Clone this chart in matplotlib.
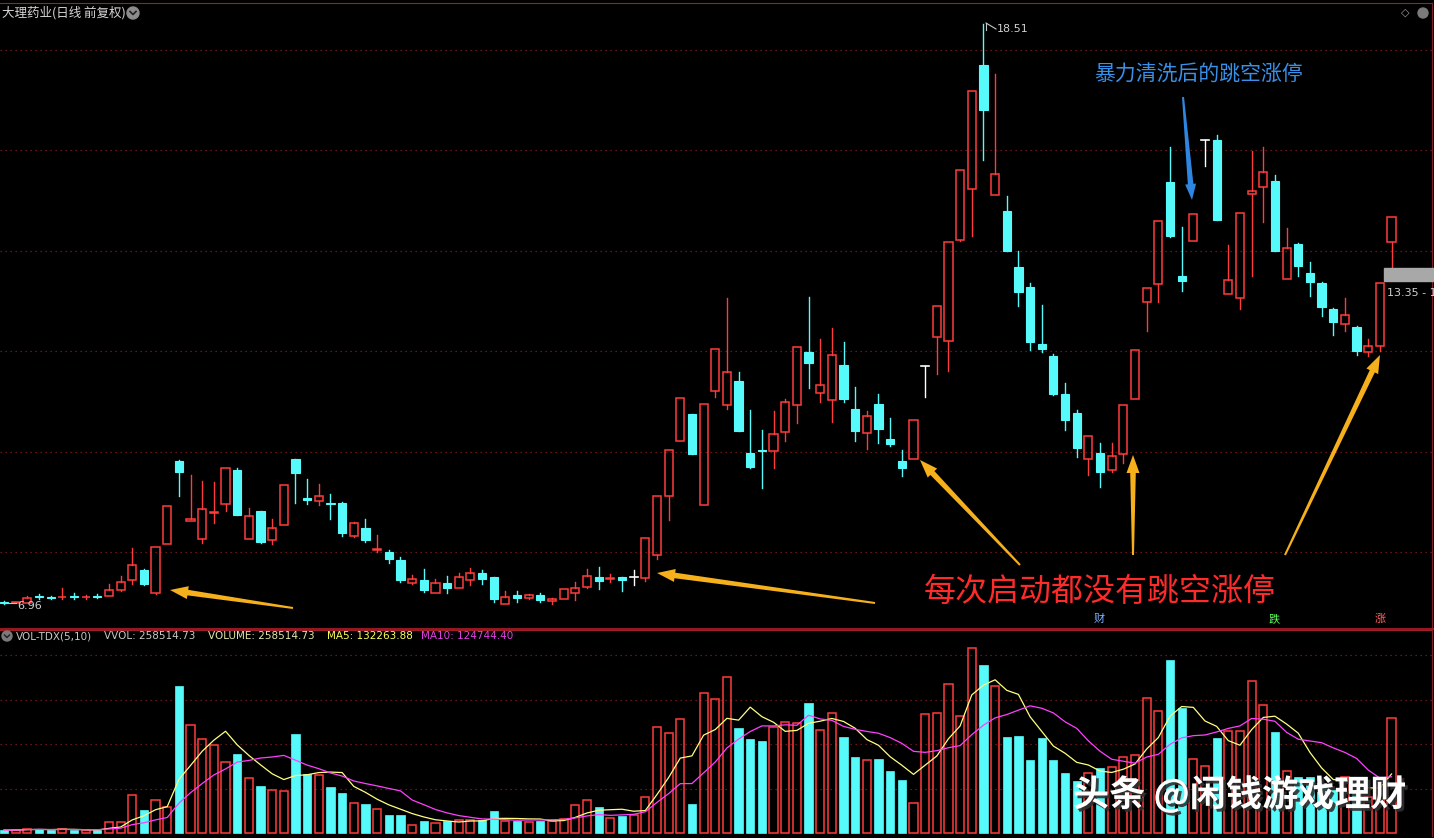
import numpy as np
import pandas as pd
import matplotlib
matplotlib.use('Agg')
import matplotlib.pyplot as plt
from matplotlib.patches import Rectangle, Polygon, Circle
import matplotlib.patheffects as pe

plt.rcParams['font.family'] = ['Noto Sans CJK SC', 'DejaVu Sans']

# 日线 OHLC (前复权)
open_ = [7.00, 6.98, 6.99, 7.12, 7.11, 7.10, 7.12, 7.10, 7.12, 7.13,
         7.25, 7.44, 7.65, 7.19, 8.15, 9.82, 8.61, 8.25, 8.77, 8.95,
         9.64, 8.25, 8.82, 8.23, 8.53, 9.85, 9.08, 9.01, 8.98, 8.98,
         8.32, 8.48, 8.04, 8.00, 7.85, 7.39, 7.45, 7.19, 7.39, 7.29,
         7.44, 7.58, 7.50, 6.97, 7.15, 7.09, 7.14, 7.03, 7.07, 7.19,
         7.30, 7.50, 7.47, 7.50, 7.51, 7.49, 7.95, 9.11, 10.21, 10.75,
         8.93, 11.21, 10.93, 11.40, 9.98, 10.03, 10.01, 10.40, 10.93, 11.99,
         11.17, 11.03, 11.72, 10.85, 10.38, 10.95, 10.26, 9.82, 9.85, 11.71,
         12.28, 12.21, 14.22, 15.23, 17.70, 15.11, 14.80, 13.68, 13.28, 12.15,
         11.90, 11.15, 10.77, 9.85, 9.98, 9.63, 9.95, 11.05, 12.97, 13.33,
         15.38, 13.50, 14.20, 16.21, 16.21, 13.13, 13.05, 15.13, 15.27, 15.40,
         13.43, 14.13, 13.55, 13.35, 12.85, 12.55, 12.48, 11.99, 12.10, 14.17]
high = [7.03, 7.00, 7.12, 7.16, 7.12, 7.28, 7.19, 7.15, 7.16, 7.37,
        7.52, 8.07, 7.67, 8.10, 8.92, 9.83, 9.53, 9.42, 9.40, 9.68,
        9.67, 8.87, 8.82, 8.65, 9.33, 9.86, 9.45, 9.36, 9.15, 9.00,
        8.60, 8.65, 8.33, 8.03, 7.91, 7.55, 7.66, 7.46, 7.53, 7.59,
        7.69, 7.64, 7.51, 7.23, 7.23, 7.16, 7.18, 7.08, 7.27, 7.41,
        7.66, 7.70, 7.56, 7.51, 7.64, 8.27, 9.11, 10.03, 11.07, 10.75,
        10.95, 12.05, 13.05, 11.58, 10.83, 10.43, 10.81, 11.05, 12.08, 13.07,
        12.25, 12.47, 12.18, 11.28, 10.81, 11.15, 10.67, 10.03, 10.63, 11.71,
        12.90, 14.18, 15.61, 17.18, 18.51, 17.53, 15.10, 13.99, 13.35, 12.93,
        11.95, 11.37, 10.83, 10.32, 10.17, 10.18, 10.93, 12.03, 13.25, 14.60,
        16.07, 14.47, 14.73, 16.21, 16.30, 14.12, 14.75, 15.99, 16.07, 15.50,
        14.45, 14.15, 13.77, 13.37, 12.86, 13.05, 12.50, 12.25, 13.35, 14.68]
low = [6.96, 6.98, 6.99, 7.06, 7.07, 7.07, 7.07, 7.07, 7.08, 7.12,
       7.22, 7.37, 7.35, 7.17, 8.15, 9.12, 8.61, 8.17, 8.57, 8.82,
       8.73, 8.25, 8.18, 8.15, 8.53, 8.97, 8.95, 8.93, 8.65, 8.31,
       8.30, 8.19, 7.99, 7.79, 7.41, 7.37, 7.21, 7.19, 7.19, 7.29,
       7.35, 7.37, 7.01, 6.97, 7.01, 7.07, 7.01, 6.97, 7.06, 7.05,
       7.28, 7.27, 7.41, 7.22, 7.35, 7.42, 7.87, 8.63, 10.21, 9.95,
       8.93, 11.09, 10.85, 10.41, 9.67, 9.27, 9.67, 10.21, 10.57, 11.27,
       10.99, 10.59, 10.99, 10.21, 10.05, 10.17, 10.11, 9.51, 9.85, 11.09,
       11.55, 11.60, 14.19, 14.29, 15.81, 15.11, 13.99, 12.91, 12.02, 11.99,
       11.13, 10.43, 9.90, 9.53, 9.30, 9.60, 9.77, 11.05, 12.41, 12.98,
       14.27, 13.20, 14.20, 15.68, 14.62, 13.13, 12.85, 13.50, 14.57, 13.99,
       13.43, 13.50, 13.10, 12.70, 12.33, 12.40, 11.93, 11.90, 12.01, 13.67]
close = [6.99, 7.00, 7.09, 7.10, 7.08, 7.11, 7.11, 7.11, 7.11, 7.24,
         7.41, 7.75, 7.37, 8.09, 8.92, 9.59, 8.66, 8.85, 8.79, 9.68,
         8.73, 8.72, 8.20, 8.48, 9.33, 9.57, 9.03, 9.12, 8.96, 8.37,
         8.58, 8.23, 8.06, 7.87, 7.45, 7.46, 7.25, 7.39, 7.29, 7.50,
         7.59, 7.47, 7.07, 7.11, 7.09, 7.14, 7.04, 7.07, 7.27, 7.29,
         7.53, 7.43, 7.49, 7.45, 7.51, 8.27, 9.11, 10.03, 11.07, 9.95,
         10.95, 12.05, 11.58, 10.41, 9.69, 10.01, 10.35, 10.98, 12.08, 11.77,
         11.33, 11.92, 11.05, 10.41, 10.70, 10.45, 10.15, 9.67, 10.63, 11.71,
         12.90, 14.18, 15.61, 17.18, 16.81, 15.53, 13.99, 13.17, 12.19, 12.05,
         11.15, 10.63, 10.07, 10.31, 9.60, 9.92, 10.93, 12.03, 13.25, 14.60,
         14.30, 13.40, 14.73, 16.21, 14.62, 13.41, 14.75, 15.19, 15.56, 13.99,
         14.05, 13.69, 13.38, 12.89, 12.59, 12.73, 12.01, 12.11, 13.35, 14.68]
volume = [6700, 6500, 9700, 9700, 6000, 9700, 6000, 6000, 6000, 24700,
          24700, 86000, 52400, 74200, 59200, 331000, 242800, 212000, 198500, 159600,
          178300, 123600, 106400, 97400, 95100, 223300, 132600, 131100, 102700, 89900,
          67400, 65900, 54000, 39800, 41100, 18000, 27700, 22500, 26300, 29200,
          29200, 29200, 49500, 27700, 27700, 24700, 27700, 27700, 32100, 63600,
          74200, 58400, 33700, 37500, 41100, 81600, 238300, 224800, 256300, 65900,
          314700, 301200, 350700, 236000, 212000, 207500, 238300, 248800, 246600, 291500,
          231500, 269000, 215100, 170100, 164800, 167000, 140100, 119800, 67400, 268200,
          269800, 334300, 263700, 415900, 378400, 329800, 215800, 218100, 164800, 213600,
          164800, 134900, 116200, 135000, 145400, 149000, 171500, 175300, 302800, 274300,
          388900, 280300, 165700, 150000, 213600, 228600, 228600, 341000, 287100, 227700,
          140100, 125900, 125900, 112400, 96700, 125900, 94400, 80000, 105000, 258515]

title = '大理药业(日线 前复权)'
vol_header = [('VOL-TDX(5,10)', 16, '#c8c8c8'), ('VVOL: 258514.73', 104, '#c8c8c8'),
              ('VOLUME: 258514.73', 208, '#e6e6a8'), ('MA5: 132263.88', 327, '#ffff5a'),
              ('MA10: 124744.40', 421, '#e040e0')]

RED = '#ff3c3c'
CYAN = '#56fafa'
GRID = '#8a1c1c'
ORANGE = '#f5b01c'

W, H = 1434, 838
fig = plt.figure(figsize=(W / 100, H / 100), dpi=100, facecolor='black')


def px_rect(x0, y0, x1, y1):
    return [x0 / W, 1 - y1 / H, (x1 - x0) / W, (y1 - y0) / H]


n = len(close)
xs = np.arange(n)
step = 11.66
xlim = (-4 / step, (1432 - 4) / step)
bw = 0.7

ax = fig.add_axes(px_rect(0, 3, 1432, 628))
axv = fig.add_axes(px_rect(0, 630, 1432, 836))
for a in (ax, axv):
    a.set_facecolor('black')
    a.set_xlim(*xlim)
    a.tick_params(left=False, bottom=False, labelleft=False, labelbottom=False)
    for s in a.spines.values():
        s.set_visible(False)
    a.spines['top'].set_visible(True)
    a.spines['top'].set_color('#a01e28')
    a.spines['right'].set_visible(True)
    a.spines['right'].set_color('#7a1e28')

ax.set_ylim(6.486, 18.936)
ax.set_yticks([8, 10, 12, 14, 16, 18])
ax.grid(axis='y', color=GRID, linestyle=(0, (1, 3)), lw=0.9)
ax.set_axisbelow(True)

# candles
for i in range(n):
    o, h, l, c = open_[i], high[i], low[i], close[i]
    if c > o:
        ax.add_patch(Rectangle((i - bw / 2, o), bw, c - o, fill=False, edgecolor=RED, lw=1.1, zorder=3))
        if h > c:
            ax.plot([i, i], [c, h], color=RED, lw=1, zorder=3)
        if l < o:
            ax.plot([i, i], [l, o], color=RED, lw=1, zorder=3)
    elif c < o:
        ax.plot([i, i], [l, h], color=CYAN, lw=1, zorder=3)
        ax.add_patch(Rectangle((i - bw / 2, c), bw, o - c, facecolor=CYAN, edgecolor=CYAN, lw=0.8, zorder=4))
    else:
        ax.plot([i, i], [l, h], color='white', lw=1, zorder=3)
        ax.plot([i - bw / 2, i + bw / 2], [o, o], color='white', lw=1.2, zorder=3)

# volume
vol = np.array(volume, float)
vol_up = []
for i in range(n):
    if close[i] != open_[i]:
        vol_up.append(close[i] > open_[i])
    else:
        vol_up.append(True)
vol_up = np.array(vol_up)
axv.set_ylim(-6700, 456300)
axv.set_yticks([100000, 200000, 300000, 400000])
axv.grid(axis='y', color=GRID, linestyle=(0, (1, 3)), lw=0.9)
axv.set_axisbelow(True)
axv.bar(xs[vol_up], vol[vol_up], width=bw, fill=False, edgecolor=RED, lw=1.1, zorder=3)
axv.bar(xs[~vol_up], vol[~vol_up], width=bw, color=CYAN, edgecolor=CYAN, lw=0.5, zorder=3)
ma5 = pd.Series(vol).rolling(5, min_periods=1).mean()
ma10 = pd.Series(vol).rolling(10, min_periods=1).mean()
axv.plot(xs, ma5, color='#ffff80', lw=0.9, zorder=4)
axv.plot(xs, ma10, color='#ff40ff', lw=0.9, zorder=4)

# overlay in pixel coordinates for annotations
ov = fig.add_axes([0, 0, 1, 1])
ov.set_xlim(0, W)
ov.set_ylim(H, 0)
ov.axis('off')
ov.patch.set_alpha(0)

ov.plot([0, W], [628.5, 628.5], color='#b01e28', lw=1.2)
ov.text(2, 13, title, color='#d6d6d6', fontsize=9, va='center', ha='left')
ov.add_patch(Circle((133, 13), 6, color='#8c8c8c'))
ov.plot([130, 133, 136], [11.5, 14.5, 11.5], color='#202020', lw=1.2)
ov.text(1405, 13, '◇', color='#a0a0a0', fontsize=8, va='center', ha='center', family='DejaVu Sans')
ov.add_patch(Circle((1423, 13), 5, color='#7a7a7a'))

# high / low labels
ov.plot([986, 986], [23, 30], color='#c8c8c8', lw=0.8)
ov.plot([986, 996], [23, 29], color='#c8c8c8', lw=0.8)
ov.text(997, 29, '18.51', color='#d0d0d0', fontsize=8, va='center', ha='left', family='DejaVu Sans')
ov.plot([5, 16], [603, 603], color='#c8c8c8', lw=0.8)
ov.text(17, 606, '6.96', color='#d0d0d0', fontsize=8, va='center', ha='left', family='DejaVu Sans')

# current price box
ov.add_patch(Rectangle((1384, 268), 50, 13, color='#a8a8a8'))
ov.text(1387, 293, '13.35 - 1', color='#d0d0d0', fontsize=8, va='center', ha='left', family='DejaVu Sans')

# volume header
ov.add_patch(Circle((7, 636), 5, color='#7a7a7a'))
ov.plot([4.5, 7, 9.5], [635, 637.5, 635], color='#202020', lw=1)
for txt, x0, col in vol_header:
    ov.text(x0, 636, txt, color=col, fontsize=7.5, va='center', ha='left', family='DejaVu Sans')


def arrow(x0, y0, x1, y1, color, hw=13, hl=18, tw0=1.0, tw1=2.8):
    d = np.array([x1 - x0, y1 - y0], float)
    u = d / np.hypot(*d)
    nrm = np.array([-u[1], u[0]])
    p0 = np.array([x0, y0], float)
    p1 = np.array([x1, y1], float)
    base = p1 - u * hl
    pts = [p0 + nrm * tw0, base + nrm * tw1, base + nrm * hw / 2, p1,
           base - nrm * hw / 2, base - nrm * tw1, p0 - nrm * tw0]
    ov.add_patch(Polygon(pts, closed=True, facecolor=color, edgecolor='none', zorder=6))


arrow(293, 608, 170, 590, ORANGE)
arrow(875, 603, 657, 573, ORANGE)
arrow(1020, 565, 920, 460, ORANGE)
arrow(1133, 555, 1133, 455, ORANGE)
arrow(1285, 555, 1380, 355, ORANGE)
arrow(1183, 97, 1192, 200, '#2f86e0', hw=11, hl=16)

ov.text(1100, 592, '每次启动都没有跳空涨停', color='#ff2a2a', fontsize=23, va='center', ha='center')
ov.text(1199, 75, '暴力清洗后的跳空涨停', color='#3a90e8', fontsize=15, va='center', ha='center')

ov.text(1099, 619, '财', color='#7fb0ff', fontsize=8, va='center', ha='center')
ov.text(1274, 619, '跌', color='#60ff60', fontsize=8, va='center', ha='center')
ov.text(1380, 619, '涨', color='#ff6060', fontsize=8, va='center', ha='center')

ov.text(1073, 795, '头条 @闲钱游戏理财', color='white', fontsize=26, fontweight='bold',
        va='center', ha='left',
        path_effects=[pe.withSimplePatchShadow(offset=(2, -2), shadow_rgbFace='#303030', alpha=0.9)])

fig.savefig('out.png', dpi=100, facecolor='black')
